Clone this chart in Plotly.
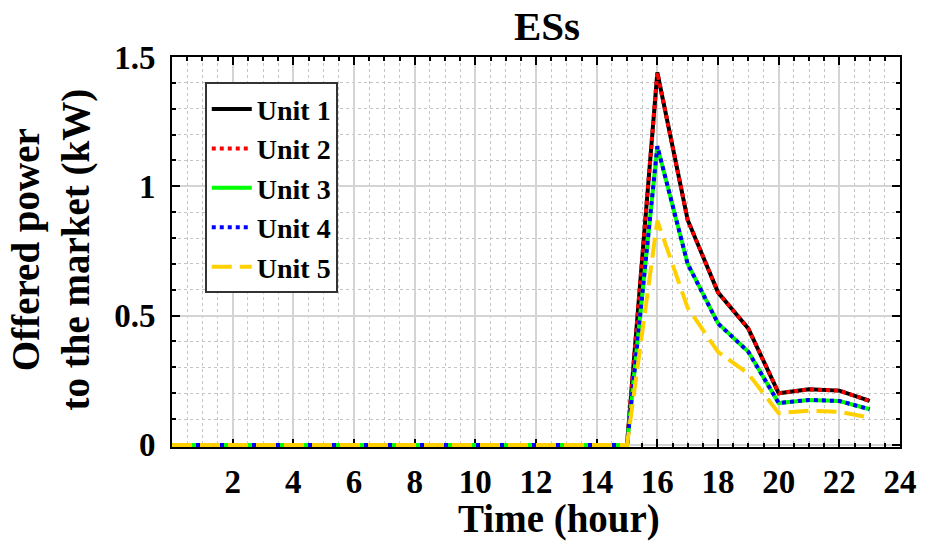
import plotly.graph_objects as go

hours = [0, 1, 2, 3, 4, 5, 6, 7, 8, 9, 10, 11, 12, 13, 14, 15, 16, 17, 18, 19, 20, 21, 22, 23]
unit1 = [0, 0, 0, 0, 0, 0, 0, 0, 0, 0, 0, 0, 0, 0, 0, 0, 1.44, 0.87, 0.59, 0.45, 0.20, 0.215, 0.21, 0.17]
unit2 = [0, 0, 0, 0, 0, 0, 0, 0, 0, 0, 0, 0, 0, 0, 0, 0, 1.44, 0.87, 0.59, 0.45, 0.20, 0.215, 0.21, 0.17]
unit3 = [0, 0, 0, 0, 0, 0, 0, 0, 0, 0, 0, 0, 0, 0, 0, 0, 1.155, 0.70, 0.47, 0.36, 0.162, 0.174, 0.17, 0.138]
unit4 = [0, 0, 0, 0, 0, 0, 0, 0, 0, 0, 0, 0, 0, 0, 0, 0, 1.155, 0.70, 0.47, 0.36, 0.162, 0.174, 0.17, 0.138]
unit5 = [0, 0, 0, 0, 0, 0, 0, 0, 0, 0, 0, 0, 0, 0, 0, 0, 0.867, 0.53, 0.36, 0.275, 0.123, 0.132, 0.128, 0.106]

names = ["Unit 1", "Unit 2", "Unit 3", "Unit 4", "Unit 5"]
series = [unit1, unit2, unit3, unit4, unit5]
colors = ["#000000", "#FF0000", "#00FF00", "#0000FF", "#FFD000"]
dashes = ["solid", "4px,4px", "solid", "4px,4px", "20px,8px"]

xticks = [2, 4, 6, 8, 10, 12, 14, 16, 18, 20, 22, 24]
yticks = [0, 0.5, 1, 1.5]
yticklabels = ["0", "0.5", "1", "1.5"]

FONT = "Liberation Serif"

fig = go.Figure()
for n, s, c, d in zip(names, series, colors, dashes):
    fig.add_trace(go.Scatter(
        x=hours, y=s, name=n, mode="lines",
        line=dict(color=c, width=4, dash=d),
    ))

axis_common = dict(
    showline=True, linecolor="black", linewidth=2, mirror="ticks",
    ticks="inside", ticklen=8, tickwidth=2, tickcolor="black",
    showgrid=True, gridcolor="#D4D4D4", gridwidth=2,
    zeroline=False, layer="below traces",
    tickfont=dict(family=FONT, size=33, color="black", weight="bold"),
)

fig.update_xaxes(
    range=[0, 24], tickvals=xticks, ticktext=[str(v) for v in xticks],
    ticklabelstandoff=4,
    minor=dict(dtick=0.5, tick0=0, ticks="inside", ticklen=4, tickwidth=2, tickcolor="black",
               showgrid=True, gridcolor="#C4C4C4", griddash="dot", gridwidth=1),
    **axis_common,
)
fig.update_yaxes(
    range=[-0.008, 1.5], tickvals=yticks, ticktext=yticklabels,
    ticklabelstandoff=8,
    minor=dict(dtick=0.1, tick0=0, ticks="inside", ticklen=4, tickwidth=2, tickcolor="black",
               showgrid=True, gridcolor="#C4C4C4", griddash="dot", gridwidth=1),
    **axis_common,
)

fig.add_annotation(
    text="<b>Time (hour)</b>", xref="paper", yref="paper",
    x=(561 - 172) / 731, y=(447 - 519) / 390, xanchor="center", yanchor="middle",
    showarrow=False, font=dict(family=FONT, size=39, color="black"),
)
fig.add_annotation(
    text="<b>Offered power<br>to the market (kW)</b>", xref="paper", yref="paper",
    x=(50 - 172) / 731, y=(447 - 250) / 390, xanchor="center", yanchor="middle",
    textangle=-90, showarrow=False, font=dict(family=FONT, size=39, color="black"),
)

fig.update_layout(
    width=929, height=544,
    margin=dict(l=172, r=26, t=57, b=97),
    paper_bgcolor="white", plot_bgcolor="white",
    title=dict(text="<b>ESs</b>", x=547 / 929, xanchor="center", y=1 - 26 / 544, yanchor="middle",
               font=dict(family=FONT, size=41, color="black")),
    legend=dict(
        x=0.045, y=0.935, xanchor="left", yanchor="top",
        bgcolor="white", bordercolor="#333333", borderwidth=2,
        font=dict(family=FONT, size=28, color="black", weight="bold"),
        tracegroupgap=0, itemwidth=40,
    ),
    showlegend=True,
)

fig.write_html("out.html")
